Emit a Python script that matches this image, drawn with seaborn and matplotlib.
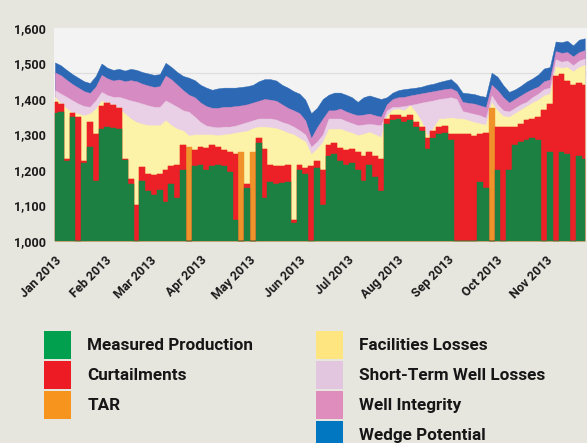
import numpy as np
import pandas as pd
import seaborn as sns
import matplotlib.pyplot as plt
import matplotlib.dates as mdates
from matplotlib.patches import Patch
from matplotlib.ticker import FuncFormatter

# stacked tops of each layer (one sample every ~3.6 days)
measured = [1360, 1362, 1225, 1350, 1000, 1220, 1265, 1170, 1316, 1320, 1318, 1315, 1228, 1160, 1000, 1168,
            1140, 1130, 1145, 1110, 1160, 1120, 1200, 1000, 1210, 1215, 1200, 1210, 1215, 1210, 1195, 1060,
            1000, 1150, 1000, 1275, 1120, 1165, 1160, 1162, 1165, 1050, 1200, 1190, 1000, 1205, 1100, 1240,
            1245, 1225, 1215, 1220, 1200, 1170, 1215, 1180, 1140, 1330, 1340, 1345, 1335, 1340, 1320, 1310,
            1260, 1290, 1300, 1305, 1285, 1000, 1000, 1000, 1000, 1165, 1150, 1000, 1200, 1000, 1200, 1270,
            1280, 1285, 1290, 1285, 1000, 1250, 1000, 1250, 1245, 1000, 1240, 1230]
curtail_top = [1392, 1385, 1232, 1360, 1350, 1225, 1335, 1300, 1380, 1388, 1382, 1375, 1232, 1175, 1100, 1208,
               1190, 1185, 1190, 1200, 1210, 1215, 1270, 1000, 1255, 1265, 1262, 1270, 1265, 1255, 1250, 1245,
               1000, 1160, 1000, 1290, 1260, 1215, 1212, 1212, 1215, 1060, 1215, 1205, 1210, 1225, 1200, 1270,
               1275, 1262, 1255, 1258, 1250, 1240, 1250, 1240, 1230, 1345, 1355, 1355, 1350, 1355, 1335, 1320,
               1290, 1310, 1320, 1325, 1300, 1300, 1300, 1300, 1295, 1300, 1305, 1000, 1320, 1320, 1320, 1320,
               1330, 1340, 1345, 1350, 1370, 1385, 1465, 1470, 1450, 1440, 1445, 1440]
tar_top = [1392, 1385, 1232, 1360, 1350, 1225, 1335, 1300, 1380, 1388, 1382, 1375, 1232, 1175, 1100, 1208,
           1190, 1185, 1190, 1200, 1210, 1215, 1270, 1265, 1255, 1265, 1262, 1270, 1265, 1255, 1250, 1245,
           1250, 1160, 1250, 1290, 1260, 1215, 1212, 1212, 1215, 1060, 1215, 1205, 1210, 1225, 1200, 1270,
           1275, 1262, 1255, 1258, 1250, 1240, 1250, 1240, 1230, 1345, 1355, 1355, 1350, 1355, 1335, 1320,
           1290, 1310, 1320, 1325, 1300, 1300, 1300, 1300, 1295, 1300, 1305, 1375, 1320, 1320, 1320, 1320,
           1330, 1340, 1345, 1350, 1370, 1385, 1465, 1470, 1450, 1440, 1445, 1440]
facilities_top = [1406, 1387, 1373, 1361, 1359, 1354, 1359, 1373, 1396, 1382, 1378, 1373, 1359, 1345, 1335, 1330,
                  1326, 1326, 1326, 1340, 1326, 1316, 1311, 1297, 1300, 1300, 1300, 1300, 1298, 1300, 1302, 1305,
                  1308, 1310, 1318, 1322, 1322, 1320, 1318, 1312, 1305, 1300, 1290, 1280, 1245, 1260, 1280, 1316,
                  1316, 1316, 1310, 1305, 1298, 1302, 1307, 1300, 1293, 1355, 1370, 1372, 1368, 1382, 1362, 1335,
                  1295, 1320, 1345, 1345, 1348, 1345, 1345, 1340, 1335, 1331, 1328, 1390, 1368, 1352, 1350, 1360,
                  1370, 1380, 1390, 1398, 1410, 1415, 1492, 1488, 1490, 1478, 1490, 1496]
short_term_top = [1425, 1415, 1406, 1396, 1387, 1380, 1378, 1396, 1420, 1411, 1406, 1406, 1401, 1396, 1392, 1387,
                  1382, 1378, 1378, 1396, 1387, 1378, 1368, 1364, 1350, 1335, 1325, 1322, 1320, 1322, 1322, 1325,
                  1330, 1335, 1340, 1345, 1345, 1345, 1342, 1335, 1330, 1322, 1312, 1300, 1265, 1280, 1300, 1345,
                  1345, 1345, 1338, 1332, 1326, 1328, 1330, 1328, 1326, 1368, 1378, 1378, 1380, 1383, 1386, 1390,
                  1393, 1396, 1400, 1402, 1405, 1400, 1366, 1362, 1358, 1354, 1347, 1410, 1385, 1368, 1365, 1375,
                  1385, 1392, 1405, 1415, 1428, 1432, 1512, 1505, 1508, 1495, 1508, 1514]
integrity_top = [1475, 1467, 1454, 1442, 1432, 1422, 1417, 1435, 1468, 1458, 1452, 1455, 1450, 1453, 1450, 1443,
                 1438, 1434, 1436, 1466, 1455, 1440, 1425, 1412, 1405, 1390, 1380, 1375, 1375, 1378, 1378, 1380,
                 1382, 1385, 1390, 1395, 1400, 1398, 1395, 1385, 1375, 1368, 1360, 1340, 1290, 1320, 1345, 1368,
                 1368, 1373, 1365, 1359, 1354, 1356, 1359, 1354, 1350, 1385, 1400, 1405, 1406, 1410, 1413, 1416,
                 1419, 1422, 1425, 1428, 1430, 1422, 1392, 1389, 1387, 1382, 1377, 1440, 1425, 1405, 1390, 1400,
                 1410, 1420, 1428, 1435, 1450, 1455, 1535, 1530, 1532, 1520, 1532, 1538]
wedge_top = [1503, 1495, 1482, 1470, 1460, 1450, 1445, 1465, 1500, 1488, 1482, 1485, 1480, 1485, 1482, 1476,
             1472, 1468, 1470, 1502, 1490, 1476, 1465, 1460, 1453, 1440, 1432, 1426, 1430, 1432, 1432, 1432,
             1434, 1436, 1440, 1450, 1456, 1456, 1452, 1440, 1432, 1422, 1415, 1398, 1360, 1375, 1400, 1412,
             1418, 1418, 1412, 1405, 1392, 1405, 1410, 1405, 1400, 1405, 1418, 1425, 1428, 1430, 1432, 1435,
             1440, 1443, 1448, 1452, 1456, 1442, 1418, 1416, 1414, 1409, 1406, 1474, 1463, 1439, 1420, 1427,
             1437, 1449, 1458, 1469, 1486, 1490, 1562, 1560, 1564, 1551, 1567, 1571]

labels = ['Measured Production', 'Curtailments', 'TAR', 'Facilities Losses',
          'Short-Term Well Losses', 'Well Integrity', 'Wedge Potential']
fill_colors = ['#1c8042', '#ec2027', '#f0922a', '#fcf3a8', '#e9d0e6', '#d68cc3', '#2c68b4']
legend_colors = ['#00a04e', '#ed1c24', '#f7941d', '#ffe57f', '#e2c5df', '#de8dbd', '#0077c0']

dates = pd.date_range('2013-01-01', '2013-11-25', periods=len(measured))

sns.set_theme(style='white', rc={'figure.facecolor': '#e6e5de', 'axes.facecolor': '#f3f3f3'})
plt.rcParams['font.family'] = ['Roboto', 'DejaVu Sans']
plt.rcParams['font.weight'] = 'bold'

fig = plt.figure(figsize=(5.87, 4.43), dpi=100)
ax = fig.add_axes([54 / 587, 1 - 241 / 443, 533 / 587, 213 / 443])

ax.axhline(1472, color='#dedede', lw=0.9, zorder=1)

# overlapping areas, painted from the top of the stack down:
# the smooth upper layers first, then the spiky layers as steps
tops = [measured, curtail_top, tar_top, facilities_top, short_term_top, integrity_top, wedge_top]
for i in range(len(tops) - 1, -1, -1):
    step = 'mid' if i < 3 else None
    ax.fill_between(dates, 1000, tops[i], step=step, facecolor=fill_colors[i],
                    edgecolor=fill_colors[i], linewidth=0.3, zorder=2)

x0 = mdates.date2num(pd.Timestamp('2013-01-01'))
ax.set_xlim(x0 - 0.6, x0 + 329.4)
ax.set_ylim(1000, 1600)
ax.set_yticks(np.arange(1000, 1601, 100))
ax.yaxis.set_major_formatter(FuncFormatter(lambda v, p: f'{v:,.0f}'))
ax.xaxis.set_major_locator(mdates.MonthLocator())
ax.xaxis.set_major_formatter(mdates.DateFormatter('%b %Y'))
ax.tick_params(axis='both', length=0, labelsize=9, colors='#1a1a1a')
ax.tick_params(axis='y', pad=6)
ax.tick_params(axis='x', pad=9)
for lab in ax.get_xticklabels():
    lab.set_rotation(45)
    lab.set_ha('right')
    lab.set_va('top')
    lab.set_rotation_mode('anchor')
    lab.set_fontweight('bold')
for lab in ax.get_yticklabels():
    lab.set_fontweight('bold')
sns.despine(ax=ax, left=True, bottom=True)
ax.set_xlabel('')
ax.set_ylabel('')

# legend, two columns (3 + 4 entries)
handles = [Patch(facecolor=c, edgecolor='none', label=l) for c, l in zip(legend_colors, labels)]
leg_kw = dict(frameon=False, fontsize=12.3, handlelength=1.58, handleheight=2.14, handletextpad=0.95,
              labelspacing=0.12, borderpad=0, borderaxespad=0, loc='upper left', labelcolor='#161616')
fig.legend(handles=handles[:3], bbox_to_anchor=(44 / 587, 1 - 331 / 443), **leg_kw)
fig.legend(handles=handles[3:], bbox_to_anchor=(316 / 587, 1 - 331 / 443), **leg_kw)

fig.savefig('out.png', dpi=100, facecolor=fig.get_facecolor())
